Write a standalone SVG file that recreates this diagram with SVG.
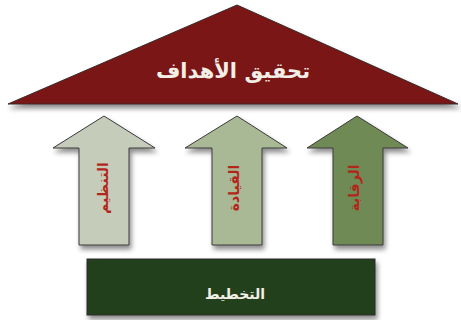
<svg xmlns="http://www.w3.org/2000/svg" width="461" height="320" viewBox="0 0 461 320">
<defs>
<filter id="sh" x="-20%" y="-20%" width="140%" height="150%">
<feDropShadow dx="2" dy="4" stdDeviation="2.5" flood-color="#000" flood-opacity="0.45"/>
</filter>
</defs>
<style>
.arrow{stroke:#3a3a3a;stroke-width:1;filter:url(#sh)}
.alab{font-family:"DejaVu Sans","Noto Sans",sans-serif;font-weight:bold;font-size:14px;fill:#b3261a;text-anchor:middle;dominant-baseline:central}
.wlab{font-family:"DejaVu Sans","Noto Sans",sans-serif;font-weight:bold;fill:#f4efe6;text-anchor:middle}
</style>
<rect width="461" height="320" fill="#ffffff"/>
<g id="roof">
<polygon points="237,5 458,104 8,104" fill="#7a1212" stroke="#3a2a2a" stroke-width="1" filter="url(#sh)"/>
<text class="wlab" x="233" y="78" font-size="21">تحقيق الأهداف</text>
</g>
<g id="pillar-organizing">
<polygon class="arrow" points="104,116 155,148 129,148 129,245 79,245 79,148 53,148" fill="#c5ccba"/>
<text class="alab" transform="translate(103,188) rotate(-90)">التنظيم</text>
</g>
<g id="pillar-leading">
<polygon class="arrow" points="237,116 287,148 262,148 262,245 212,245 212,148 185,148" fill="#a9b895"/>
<text class="alab" transform="translate(234,188) rotate(-90)">القيادة</text>
</g>
<g id="pillar-control">
<polygon class="arrow" points="357,116 408,148 383,148 383,245 333,245 333,148 307,148" fill="#6f8a57"/>
<text class="alab" transform="translate(354,188) rotate(-90)">الرقابة</text>
</g>
<g id="base-planning">
<rect x="87" y="259" width="288" height="56" fill="#24401d" stroke="#2a2a2a" stroke-width="1" filter="url(#sh)"/>
<text class="wlab" x="235" y="299" font-size="14">التخطيط</text>
</g>
<g id="connectors"></g>
</svg>
